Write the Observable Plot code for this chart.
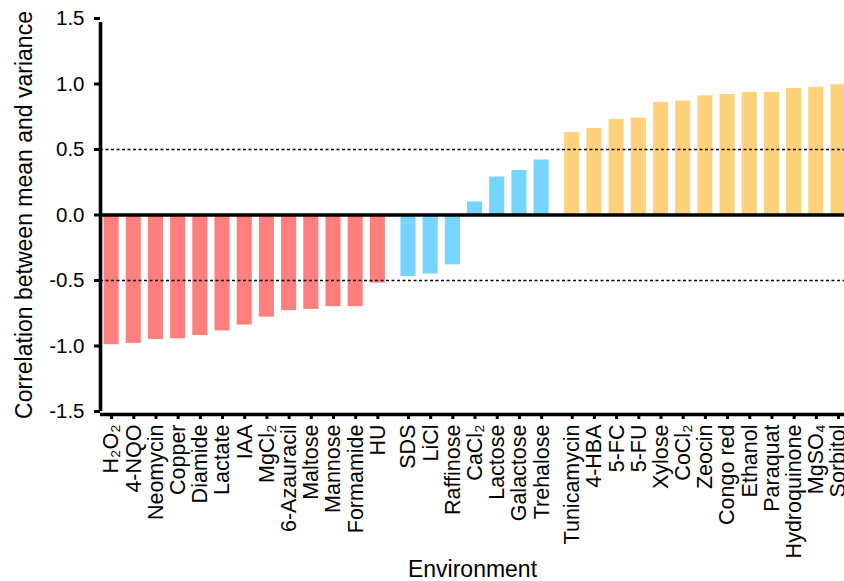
<!DOCTYPE html>
<html>
<head>
<meta charset="utf-8">
<script src="https://cdn.jsdelivr.net/npm/d3@7"></script>
<script src="https://cdn.jsdelivr.net/npm/@observablehq/plot@0.6"></script>
<style>
  html, body { margin: 0; padding: 0; background: #fff; }
  #chart svg { display: block; }
</style>
</head>
<body>
<div id="chart"></div>
<script>
// ---- data ----
const redEnv = ["H₂O₂", "4-NQO", "Neomycin", "Copper", "Diamide", "Lactate", "IAA", "MgCl₂", "6-Azauracil", "Maltose", "Mannose", "Formamide", "HU"];
const redVal = [-0.99, -0.98, -0.95, -0.945, -0.92, -0.885, -0.84, -0.78, -0.73, -0.72, -0.70, -0.70, -0.52];
const blueEnv = ["SDS", "LiCl", "Raffinose", "CaCl₂", "Lactose", "Galactose", "Trehalose"];
const blueVal = [-0.47, -0.45, -0.38, 0.10, 0.29, 0.34, 0.42];
const yellowEnv = ["Tunicamycin", "4-HBA", "5-FC", "5-FU", "Xylose", "CoCl₂", "Zeocin", "Congo red", "Ethanol", "Paraquat", "Hydroquinone", "MgSO₄", "Sorbitol"];
const yellowVal = [0.63, 0.66, 0.73, 0.74, 0.86, 0.87, 0.91, 0.92, 0.935, 0.935, 0.965, 0.975, 0.995];
const groupColors = ["#FF7F7F", "#75D5FE", "#FDD27B"];
const yTicks = [-1.5, -1.0, -0.5, 0, 0.5, 1.0, 1.5];
const refLines = [-0.5, 0.5];

// ---- build table ----
const groupGap = 0.38;   // extra spacing between groups (fraction of a bar step)
const halfBar = 0.34;
const groups = [[redEnv, redVal], [blueEnv, blueVal], [yellowEnv, yellowVal]];
const data = [];
let idx = 0;
groups.forEach(([envs, vals], g) => {
  envs.forEach((e, i) => {
    data.push({env: e, value: vals[i], group: g, pos: idx + g * groupGap});
    idx++;
  });
});
const xMin = -0.5;
const xMax = data[data.length - 1].pos + 0.27;
const labelAt = new Map(data.map(d => [d.pos, d.env]));

const font = "'Liberation Sans', Arial, Helvetica, sans-serif";

const chart = Plot.plot({
  width: 844,
  height: 581,
  marginLeft: 100,
  marginRight: 0,
  marginTop: 18,
  marginBottom: 170,
  style: {fontFamily: font, fontSize: "20px", color: "#000", background: "#fff"},
  x: {type: "linear", domain: [xMin, xMax]},
  y: {domain: [-1.5, 1.5]},
  color: {type: "ordinal", domain: [0, 1, 2], range: groupColors},
  marks: [
    Plot.rectY(data, {
      x1: d => d.pos - halfBar,
      x2: d => d.pos + halfBar,
      y1: 0,
      y2: "value",
      fill: d => d.group
    }),
    Plot.ruleY(refLines, {stroke: "#000", strokeWidth: 1.6, strokeDasharray: "3,2.5"}),
    Plot.ruleY([0], {stroke: "#000", strokeWidth: 3.6}),
    Plot.ruleX([xMin], {stroke: "#000", strokeWidth: 3.6, y1: -1.5, y2: 1.5, insetBottom: -4}),
    Plot.ruleY([-1.5], {stroke: "#000", strokeWidth: 3.6, dy: 3}),
    Plot.axisY({
      ticks: yTicks,
      tickFormat: d => d.toFixed(1).replace("−", "-"),
      tickSize: 6,
      tickPadding: 10,
      strokeWidth: 3,
      label: null,
      fontSize: 20.5
    }),
    Plot.axisX({
      ticks: data.map(d => d.pos),
      tickFormat: d => labelAt.get(d),
      tickRotate: -90,
      tickSize: 5,
      tickPadding: 5,
      strokeWidth: 3,
      dy: 3,
      label: null,
      fontSize: 21.5
    }),
    Plot.text(["Correlation between mean and variance"], {
      frameAnchor: "left",
      rotate: -90,
      dx: -76,
      fontSize: 23,
      textAnchor: "middle",
      lineAnchor: "middle",
      fill: "#000"
    }),
    Plot.text(["Environment"], {
      frameAnchor: "bottom",
      dy: 158,
      fontSize: 23,
      textAnchor: "middle",
      lineAnchor: "middle",
      fill: "#000"
    })
  ]
});
document.getElementById("chart").appendChild(chart);
</script>
</body>
</html>
